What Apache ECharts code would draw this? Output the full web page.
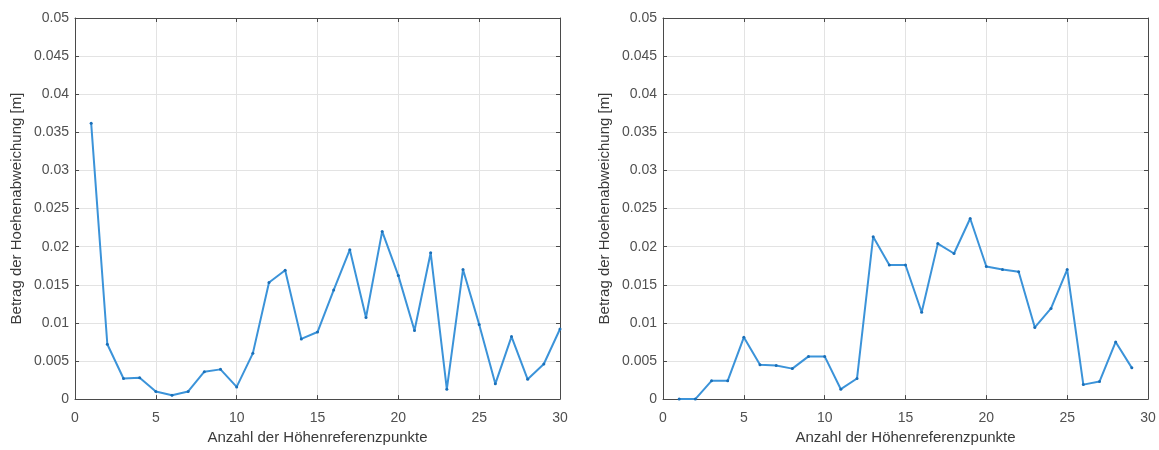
<!DOCTYPE html>
<html>
<head>
<meta charset="utf-8">
<script src="https://cdn.jsdelivr.net/npm/echarts@6/dist/echarts.min.js"></script>
<style>
html,body{margin:0;padding:0;background:#fff;}
#c{width:1159px;height:450px;}
</style>
</head>
<body>
<div id="c"></div>
<script>
// Data
var xLeft = [1,2,3,4,5,6,7,8,9,10,11,12,13,14,15,16,17,18,19,20,21,22,23,24,25,26,27,28,29,30];
var yLeft = [0.0362,0.0072,0.0027,0.0028,0.0010,0.0005,0.0010,0.0036,0.0039,0.0016,0.0060,0.0153,0.0169,0.0079,0.0088,0.0143,0.0196,0.0107,0.0220,0.0162,0.0090,0.0192,0.0013,0.0170,0.0098,0.0020,0.0082,0.0026,0.0046,0.0092];
var xRight = [1,2,3,4,5,6,7,8,9,10,11,12,13,14,15,16,17,18,19,20,21,22,23,24,25,26,27,28,29];
var yRight = [0.0000,0.0000,0.0024,0.0024,0.0081,0.0045,0.0044,0.0040,0.0056,0.0056,0.0013,0.0027,0.0213,0.0176,0.0176,0.0114,0.0204,0.0191,0.0237,0.0174,0.0170,0.0167,0.0094,0.0119,0.0170,0.0019,0.0023,0.0075,0.0041];
var xTickLabels = ['0','5','10','15','20','25','30'];
var yTickLabels = ['0','0.005','0.01','0.015','0.02','0.025','0.03','0.035','0.04','0.045','0.05'];
var xName = 'Anzahl der Höhenreferenzpunkte';
var yName = 'Betrag der Hoehenabweichung [m]';

var FONT = '"Liberation Sans", Arial, sans-serif';
var lineColor = '#3b93d9';
var markColor = '#1a6fb8';
var boxColor = '#4a4a4a';
var gridColor = '#e3e3e3';

function pair(a, b){ return a.map(function(v,i){ return [v, b[i]]; }); }
function yFmt(v){ var i = Math.round(v/0.005); return yTickLabels[i] !== undefined ? yTickLabels[i] : ''; }
function xFmt(v){ var i = Math.round(v/5); return xTickLabels[i] !== undefined ? xTickLabels[i] : ''; }

var grids = [
  {left: 75, right: 599, top: 18, bottom: 49},
  {left: 663, right: 11, top: 18, bottom: 49}
];
var xAxes = [], yAxes = [], series = [];
grids.forEach(function(g, gi){
  xAxes.push({
    type:'value', gridIndex: gi, min:0, max:30, interval:5, position:'bottom',
    name: xName, nameLocation:'middle', nameGap: 26,
    nameTextStyle:{fontFamily:FONT, fontSize:15, color:'#3a3a3a'},
    axisLine:{show:true, onZero:false, lineStyle:{color:boxColor, width:1}},
    axisTick:{show:true, inside:true, length:4, lineStyle:{color:boxColor}},
    axisLabel:{show:true, margin:12, fontFamily:FONT, fontSize:14, color:'#505050', formatter:xFmt},
    splitLine:{show:true, lineStyle:{color:gridColor, width:1}}
  });
  xAxes.push({
    type:'value', gridIndex: gi, min:0, max:30, interval:5, position:'top',
    axisLine:{show:true, onZero:false, lineStyle:{color:boxColor, width:1}},
    axisTick:{show:true, inside:true, length:4, lineStyle:{color:boxColor}},
    axisLabel:{show:false}, splitLine:{show:false}
  });
  yAxes.push({
    type:'value', gridIndex: gi, min:0, max:0.05, interval:0.005, position:'left',
    name: yName, nameLocation:'middle', nameGap: 51,
    nameTextStyle:{fontFamily:FONT, fontSize:15, color:'#3a3a3a'},
    axisLine:{show:true, onZero:false, lineStyle:{color:boxColor, width:1}},
    axisTick:{show:true, inside:true, length:4, lineStyle:{color:boxColor}},
    axisLabel:{show:true, margin:6, fontFamily:FONT, fontSize:14, color:'#505050', formatter:yFmt},
    splitLine:{show:true, lineStyle:{color:gridColor, width:1}}
  });
  yAxes.push({
    type:'value', gridIndex: gi, min:0, max:0.05, interval:0.005, position:'right',
    axisLine:{show:true, onZero:false, lineStyle:{color:boxColor, width:1}},
    axisTick:{show:true, inside:true, length:4, lineStyle:{color:boxColor}},
    axisLabel:{show:false}, splitLine:{show:false}
  });
});

series.push({
  type:'line', xAxisIndex:0, yAxisIndex:0, data: pair(xLeft, yLeft),
  symbol:'circle', symbolSize:3, showSymbol:true,
  lineStyle:{color:lineColor, width:2}, itemStyle:{color:markColor}, animation:false
});
series.push({
  type:'line', xAxisIndex:2, yAxisIndex:2, data: pair(xRight, yRight),
  symbol:'circle', symbolSize:3, showSymbol:true,
  lineStyle:{color:lineColor, width:2}, itemStyle:{color:markColor}, animation:false
});

var chart = echarts.init(document.getElementById('c'), null, {renderer:'canvas'});
chart.setOption({
  animation:false,
  backgroundColor:'#fff',
  grid: grids,
  xAxis: xAxes,
  yAxis: yAxes,
  series: series
});
</script>
</body>
</html>
